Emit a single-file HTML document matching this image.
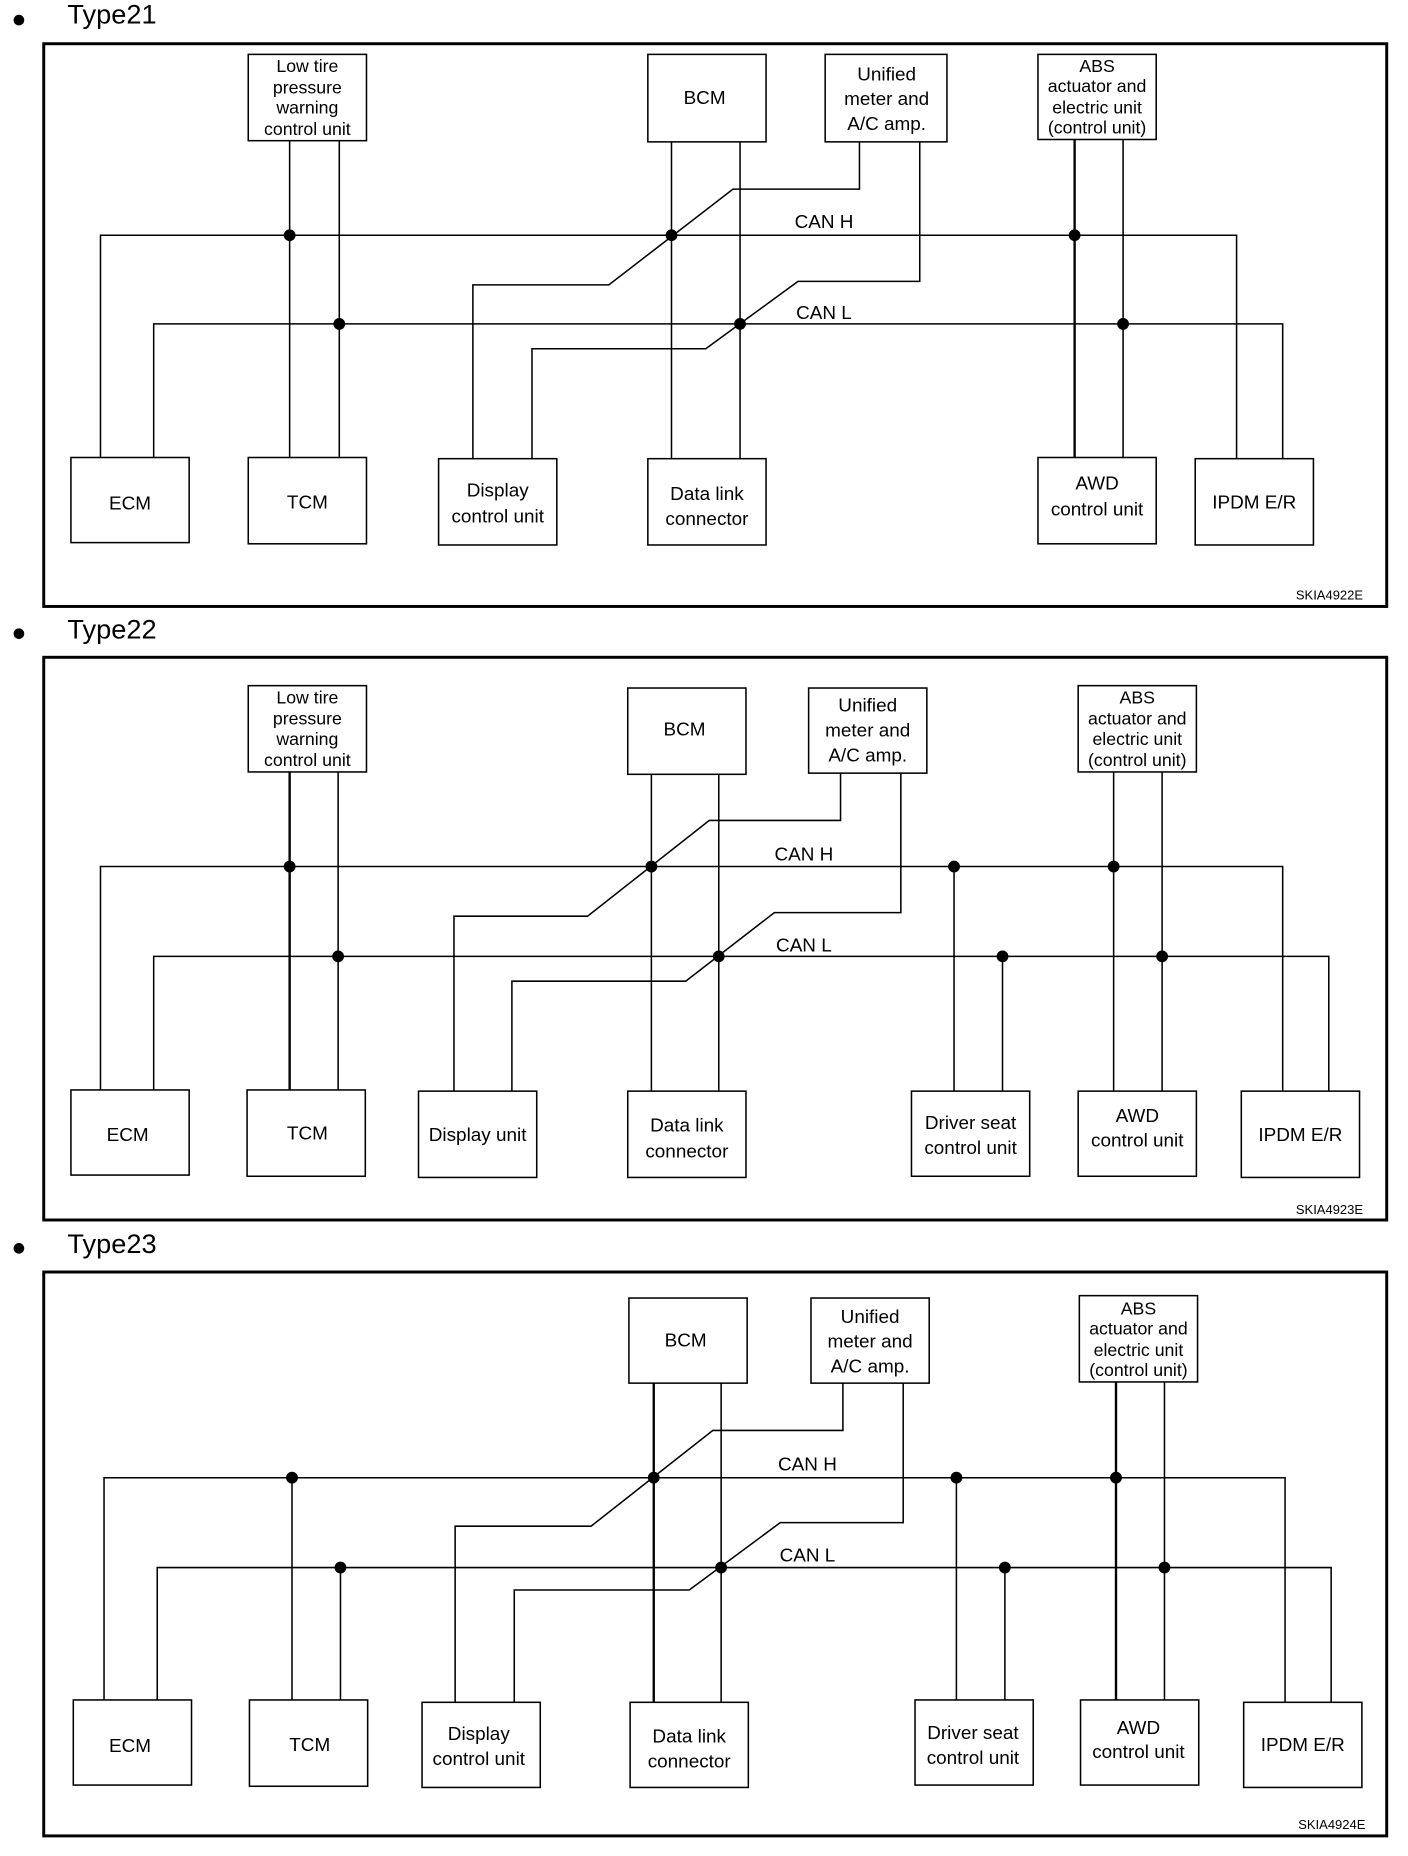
<!DOCTYPE html>
<html><head><meta charset="utf-8"><style>
html,body{margin:0;padding:0;background:#fff}
svg{display:block}
text{font-family:"Liberation Sans",sans-serif;fill:#000}
.t{font-size:16px;text-anchor:middle}
.s{font-size:15px;text-anchor:middle}
.c{font-size:16px;text-anchor:middle}
.k{font-size:11px;text-anchor:end}
.h{font-size:23px}
</style></head><body>
<svg width="1408" height="1856" viewBox="0 0 1191 1570" preserveAspectRatio="none" xmlns="http://www.w3.org/2000/svg">
<g fill="none" stroke="#000" stroke-width="1.3">
<rect x="37" y="37" width="1136" height="476" stroke-width="2.5"/>
<rect x="37" y="556" width="1136" height="476" stroke-width="2.5"/>
<rect x="37" y="1076" width="1136" height="477" stroke-width="2.5"/>

<rect x="210" y="46" width="100" height="73"/>
<rect x="548" y="46" width="100" height="74"/>
<rect x="698" y="46" width="103" height="74"/>
<rect x="878" y="46" width="100" height="72"/>
<rect x="60" y="387" width="100" height="72"/>
<rect x="210" y="387" width="100" height="73"/>
<rect x="371" y="388" width="100" height="73"/>
<rect x="548" y="388" width="100" height="73"/>
<rect x="878" y="387" width="100" height="73"/>
<rect x="1011" y="388" width="100" height="73"/>
<polyline points="85,387 85,199 1046,199 1046,388"/>
<polyline points="130,387 130,274 1085,274 1085,388"/>
<line x1="245" y1="119" x2="245" y2="387"/>
<line x1="287" y1="119" x2="287" y2="387"/>
<line x1="568" y1="120" x2="568" y2="388"/>
<line x1="626" y1="120" x2="626" y2="388"/>
<polyline points="727,120 727,160 620,160 515,241 400,241 400,388"/>
<polyline points="778,120 778,238 675,238 597,295 450,295 450,388"/>
<line x1="909" y1="118" x2="909" y2="387" stroke-width="2"/>
<line x1="950" y1="118" x2="950" y2="387"/>

<rect x="210" y="580" width="100" height="73"/>
<rect x="531" y="582" width="100" height="73"/>
<rect x="684" y="582" width="100" height="72"/>
<rect x="912" y="580" width="100" height="73"/>
<rect x="60" y="922" width="100" height="72"/>
<rect x="209" y="922" width="100" height="73"/>
<rect x="354" y="923" width="100" height="73"/>
<rect x="531" y="923" width="100" height="73"/>
<rect x="771" y="923" width="100" height="72"/>
<rect x="912" y="923" width="100" height="72"/>
<rect x="1050" y="923" width="100" height="73"/>
<polyline points="85,922 85,733 1085,733 1085,923"/>
<polyline points="130,922 130,809 1124,809 1124,923"/>
<line x1="245" y1="653" x2="245" y2="922" stroke-width="2"/>
<line x1="286" y1="653" x2="286" y2="922"/>
<line x1="551" y1="655" x2="551" y2="923"/>
<line x1="608" y1="655" x2="608" y2="923"/>
<polyline points="711,654 711,694 600,694 497,775 384,775 384,923"/>
<polyline points="762,654 762,772 655,772 580,830 433,830 433,923"/>
<line x1="807" y1="733" x2="807" y2="923"/>
<line x1="848" y1="809" x2="848" y2="923"/>
<line x1="942" y1="653" x2="942" y2="923"/>
<line x1="983" y1="653" x2="983" y2="923"/>

<rect x="532" y="1098" width="100" height="72"/>
<rect x="686" y="1098" width="100" height="72"/>
<rect x="913" y="1096" width="100" height="73"/>
<rect x="62" y="1438" width="100" height="72"/>
<rect x="211" y="1438" width="100" height="73"/>
<rect x="357" y="1440" width="100" height="72"/>
<rect x="533" y="1440" width="100" height="72"/>
<rect x="774" y="1438" width="100" height="72"/>
<rect x="914" y="1438" width="100" height="72"/>
<rect x="1052" y="1440" width="100" height="72"/>
<polyline points="88,1438 88,1250 1087,1250 1087,1440"/>
<polyline points="133,1438 133,1326 1126,1326 1126,1440"/>
<line x1="247" y1="1250" x2="247" y2="1438"/>
<line x1="288" y1="1326" x2="288" y2="1438"/>
<line x1="553" y1="1170" x2="553" y2="1440" stroke-width="2"/>
<line x1="610" y1="1170" x2="610" y2="1440"/>
<polyline points="713,1170 713,1210 603,1210 500,1291 385,1291 385,1440"/>
<polyline points="764,1170 764,1288 660,1288 583,1345 435,1345 435,1440"/>
<line x1="809" y1="1250" x2="809" y2="1438"/>
<line x1="850" y1="1326" x2="850" y2="1438"/>
<line x1="944" y1="1169" x2="944" y2="1438" stroke-width="2"/>
<line x1="985" y1="1169" x2="985" y2="1438"/>
</g>

<g fill="#000">
<circle cx="16" cy="17" r="4.5"/><circle cx="16" cy="536" r="4.5"/><circle cx="16" cy="1056" r="4.5"/>
<circle cx="245" cy="199" r="5"/><circle cx="568" cy="199" r="5"/><circle cx="909" cy="199" r="5"/>
<circle cx="287" cy="274" r="5"/><circle cx="626" cy="274" r="5"/><circle cx="950" cy="274" r="5"/>
<circle cx="245" cy="733" r="5"/><circle cx="551" cy="733" r="5"/><circle cx="807" cy="733" r="5"/><circle cx="942" cy="733" r="5"/>
<circle cx="286" cy="809" r="5"/><circle cx="608" cy="809" r="5"/><circle cx="848" cy="809" r="5"/><circle cx="983" cy="809" r="5"/>
<circle cx="247" cy="1250" r="5"/><circle cx="553" cy="1250" r="5"/><circle cx="809" cy="1250" r="5"/><circle cx="944" cy="1250" r="5"/>
<circle cx="288" cy="1326" r="5"/><circle cx="610" cy="1326" r="5"/><circle cx="850" cy="1326" r="5"/><circle cx="985" cy="1326" r="5"/>
</g>

<text class="h" x="57" y="20">Type21</text>
<text class="h" x="57" y="540">Type22</text>
<text class="h" x="57" y="1060">Type23</text>

<text class="s" x="260" y="61">Low tire</text><text class="s" x="260" y="79">pressure</text><text class="s" x="260" y="96">warning</text><text class="s" x="260" y="114">control unit</text>
<text class="t" x="596" y="88">BCM</text>
<text class="t" x="750" y="68">Unified</text><text class="t" x="750" y="89">meter and</text><text class="t" x="750" y="110">A/C amp.</text>
<text class="s" x="928" y="61">ABS</text><text class="s" x="928" y="78">actuator and</text><text class="s" x="928" y="96">electric unit</text><text class="s" x="928" y="113">(control unit)</text>
<text class="t" x="110" y="431">ECM</text>
<text class="t" x="260" y="430">TCM</text>
<text class="t" x="421" y="420">Display</text><text class="t" x="421" y="442">control unit</text>
<text class="t" x="598" y="423">Data link</text><text class="t" x="598" y="444">connector</text>
<text class="t" x="928" y="414">AWD</text><text class="t" x="928" y="436">control unit</text>
<text class="t" x="1061" y="430">IPDM E/R</text>
<text class="c" x="697" y="193">CAN H</text>
<text class="c" x="697" y="270">CAN L</text>
<text class="k" x="1153" y="507">SKIA4922E</text>

<text class="s" x="260" y="595">Low tire</text><text class="s" x="260" y="613">pressure</text><text class="s" x="260" y="630">warning</text><text class="s" x="260" y="648">control unit</text>
<text class="t" x="579" y="622">BCM</text>
<text class="t" x="734" y="602">Unified</text><text class="t" x="734" y="623">meter and</text><text class="t" x="734" y="644">A/C amp.</text>
<text class="s" x="962" y="595">ABS</text><text class="s" x="962" y="613">actuator and</text><text class="s" x="962" y="630">electric unit</text><text class="s" x="962" y="648">(control unit)</text>
<text class="t" x="108" y="965">ECM</text>
<text class="t" x="260" y="964">TCM</text>
<text class="t" x="404" y="965">Display unit</text>
<text class="t" x="581" y="957">Data link</text><text class="t" x="581" y="979">connector</text>
<text class="t" x="821" y="955">Driver seat</text><text class="t" x="821" y="976">control unit</text>
<text class="t" x="962" y="949">AWD</text><text class="t" x="962" y="970">control unit</text>
<text class="t" x="1100" y="965">IPDM E/R</text>
<text class="c" x="680" y="728">CAN H</text>
<text class="c" x="680" y="805">CAN L</text>
<text class="k" x="1153" y="1027">SKIA4923E</text>

<text class="t" x="580" y="1139">BCM</text>
<text class="t" x="736" y="1119">Unified</text><text class="t" x="736" y="1140">meter and</text><text class="t" x="736" y="1161">A/C amp.</text>
<text class="s" x="963" y="1112">ABS</text><text class="s" x="963" y="1129">actuator and</text><text class="s" x="963" y="1147">electric unit</text><text class="s" x="963" y="1164">(control unit)</text>
<text class="t" x="110" y="1482">ECM</text>
<text class="t" x="262" y="1481">TCM</text>
<text class="t" x="405" y="1472">Display</text><text class="t" x="405" y="1493">control unit</text>
<text class="t" x="583" y="1474">Data link</text><text class="t" x="583" y="1495">connector</text>
<text class="t" x="823" y="1471">Driver seat</text><text class="t" x="823" y="1492">control unit</text>
<text class="t" x="963" y="1467">AWD</text><text class="t" x="963" y="1487">control unit</text>
<text class="t" x="1102" y="1481">IPDM E/R</text>
<text class="c" x="683" y="1244">CAN H</text>
<text class="c" x="683" y="1321">CAN L</text>
<text class="k" x="1155" y="1547">SKIA4924E</text>
</svg>
</body></html>
